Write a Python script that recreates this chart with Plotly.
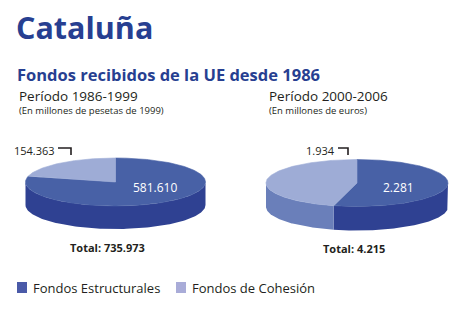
import numpy as np
import plotly.graph_objects as go

# ---- data ----
categories = ["Fondos Estructurales", "Fondos de Cohesión"]
values_1986_1999 = [581610, 154363]   # millones de pesetas de 1999
values_2000_2006 = [2281, 1934]       # millones de euros
periods = ["Período 1986-1999", "Período 2000-2006"]
units = ["(En millones de pesetas de 1999)", "(En millones de euros)"]

# ---- style ----
top_colors = ["#4861a6", "#9eacd6"]
side_colors = ["#2f4192", "#6a7fba"]
legend_colors = ["#4a5aa8", "#a9acd8"]
BLUE = "#273f91"
DARK = "#231f20"
FONT = "Open Sans"


def fmt(v):
    return f"{v:,}".replace(",", ".")


fig = go.Figure()


def add_pie(values, cx, cy, rx, ry, depth):
    total = sum(values)
    f_main = values[0] / total
    # dark slice: clockwise from top; light slice: counter-clockwise from top
    slices = [(90 - 360 * f_main, 90), (90, 90 + 360 * (1 - f_main))]
    # sides first
    for i, (a0, a1) in enumerate(slices):
        for k in (-1, 0, 1):
            lo = max(a0, 180 + 360 * k)
            hi = min(a1, 360 + 360 * k)
            if hi <= lo:
                continue
            t = np.radians(np.linspace(lo, hi, 120))
            xt = cx + rx * np.cos(t)
            yt = cy - ry * np.sin(t)
            xs = np.concatenate([xt, xt[::-1], xt[:1]])
            ys = np.concatenate([yt, (yt + depth)[::-1], yt[:1]])
            fig.add_trace(go.Scatter(x=xs, y=ys, fill="toself", mode="lines",
                                     line=dict(width=0, color=side_colors[i]),
                                     fillcolor=side_colors[i], hoverinfo="skip",
                                     showlegend=False))
    # tops
    for i, (a0, a1) in enumerate(slices):
        t = np.radians(np.linspace(a0, a1, 240))
        xs = np.concatenate([[cx], cx + rx * np.cos(t), [cx]])
        ys = np.concatenate([[cy], cy - ry * np.sin(t), [cy]])
        fig.add_trace(go.Scatter(x=xs, y=ys, fill="toself", mode="lines",
                                 line=dict(width=0.6, color=top_colors[i]),
                                 fillcolor=top_colors[i], hoverinfo="skip",
                                 showlegend=False))
    return total


pies = [
    dict(values=values_1986_1999, cx=115.5, cy=182, rx=90, ry=24, depth=23,
         small=(57, 150, 71), big=(155, 187), tot=(107, 247), head=17),
    dict(values=values_2000_2006, cx=357, cy=183, rx=91, ry=23.5, depth=24,
         small=(337, 150, 348), big=(398, 187), tot=(354, 248), head=267),
]

ann = []
shapes = []
for p, per, un in zip(pies, periods, units):
    total = add_pie(p["values"], p["cx"], p["cy"], p["rx"], p["ry"], p["depth"])
    sx, sy, bx = p["small"]
    ann.append(dict(x=sx, y=sy, text=fmt(p["values"][1]), xanchor="right",
                    yanchor="middle", font=dict(size=11, color=DARK)))
    shapes.append(dict(type="path", path=f"M {sx+1} {sy-2} L {bx} {sy-2} L {bx} {sy+5}",
                       line=dict(color=DARK, width=1.6), xref="x", yref="y"))
    ann.append(dict(x=p["big"][0], y=p["big"][1], text=fmt(p["values"][0]),
                    xanchor="center", yanchor="middle",
                    font=dict(size=12, color="white")))
    ann.append(dict(x=p["tot"][0], y=p["tot"][1], text=f"<b>Total: {fmt(total)}</b>",
                    xanchor="center", yanchor="middle", font=dict(size=11, color=DARK)))
    ann.append(dict(x=p["head"], y=95.5, text=per, xanchor="left", yanchor="middle",
                    font=dict(size=13.5, color=DARK)))
    ann.append(dict(x=p["head"], y=110, text=un, xanchor="left", yanchor="middle",
                    font=dict(size=9.5, color=DARK)))

ann.append(dict(x=14, y=27, text="<b>Cataluña</b>", xanchor="left", yanchor="middle",
                font=dict(size=30.5, color=BLUE)))
ann.append(dict(x=15, y=74, text="<b>Fondos recibidos de la UE desde 1986</b>",
                xanchor="left", yanchor="middle", font=dict(size=16.5, color=BLUE)))

# legend
leg_x = [17, 176]
for cat, col, lx in zip(categories, legend_colors, leg_x):
    shapes.append(dict(type="rect", x0=lx, x1=lx + 10, y0=282, y1=293,
                       fillcolor=col, line=dict(width=0), xref="x", yref="y"))
    ann.append(dict(x=lx + 14, y=288, text=cat, xanchor="left", yanchor="middle",
                    font=dict(size=13, color=DARK)))

for a in ann:
    a.update(xref="x", yref="y", showarrow=False)

fig.update_layout(
    width=460, height=311, margin=dict(l=0, r=0, t=0, b=0),
    paper_bgcolor="white", plot_bgcolor="white",
    font=dict(family=FONT),
    xaxis=dict(range=[0, 460], visible=False, fixedrange=True),
    yaxis=dict(range=[311, 0], visible=False, fixedrange=True),
    annotations=ann, shapes=shapes, showlegend=False,
)
fig.write_html("out.html")
